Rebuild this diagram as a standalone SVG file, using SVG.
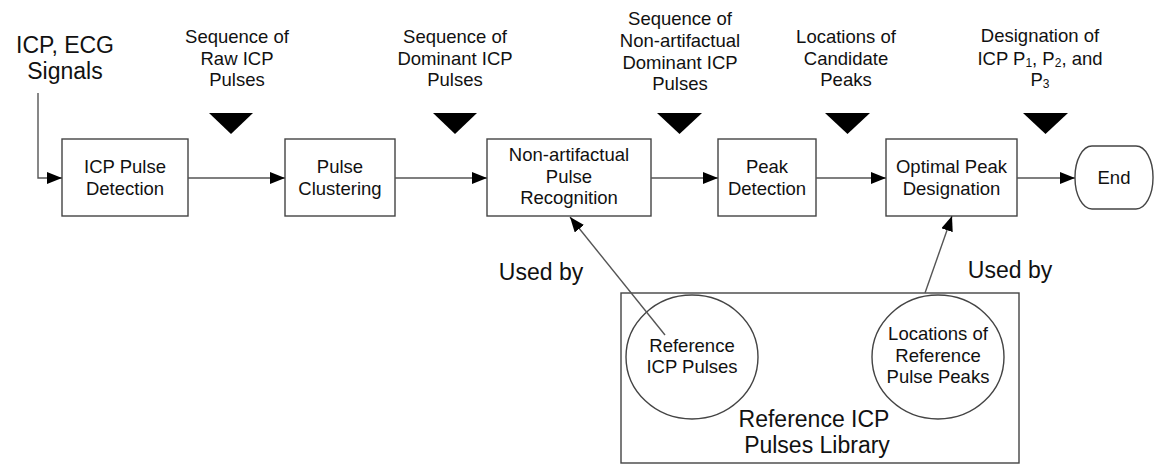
<svg xmlns="http://www.w3.org/2000/svg" width="1157" height="466" viewBox="0 0 1157 466">
<style>
text{font-family:"Liberation Sans",Arial,Helvetica,sans-serif;fill:#111;text-anchor:middle}
.t{font-size:18.5px}
.big{font-size:23px}
.box{fill:#fff;stroke:#444;stroke-width:1.4}
.ln{fill:none;stroke:#555;stroke-width:1.4}
.tri{fill:#000}
.sub{font-size:12px}
</style>
<defs>
<marker id="ah" markerUnits="userSpaceOnUse" markerWidth="16" markerHeight="12" refX="15" refY="6" orient="auto">
<path d="M0,0 L15,6 L0,12 Z" fill="#000"/>
</marker>
</defs>
<rect width="1157" height="466" fill="#fff"/>

<g id="input-label">
<text class="big" x="65" y="53">ICP, ECG</text>
<text class="big" x="65" y="79">Signals</text>
</g>

<g id="labels">
<text class="t" x="237" y="43">Sequence of</text>
<text class="t" x="237" y="64.5">Raw ICP</text>
<text class="t" x="237" y="86">Pulses</text>
<polygon class="tri" points="209,113 253,113 231,134"/>

<text class="t" x="455" y="43">Sequence of</text>
<text class="t" x="455" y="64.5">Dominant ICP</text>
<text class="t" x="455" y="86">Pulses</text>
<polygon class="tri" points="433,113 477,113 455,134"/>

<text class="t" x="680" y="25">Sequence of</text>
<text class="t" x="680" y="47">Non-artifactual</text>
<text class="t" x="680" y="68.5">Dominant ICP</text>
<text class="t" x="680" y="90">Pulses</text>
<polygon class="tri" points="657,113 702,113 679.5,134"/>

<text class="t" x="846" y="43">Locations of</text>
<text class="t" x="846" y="64.5">Candidate</text>
<text class="t" x="846" y="86">Peaks</text>
<polygon class="tri" points="825,113 870,113 847.5,134"/>

<text class="t" x="1040" y="42">Designation of</text>
<text class="t" x="1040" y="64.5">ICP P<tspan class="sub" dy="2">1</tspan><tspan dy="-2">, P</tspan><tspan class="sub" dy="2">2</tspan><tspan dy="-2">, and</tspan></text>
<text class="t" x="1040" y="86">P<tspan class="sub" dy="2">3</tspan></text>
<polygon class="tri" points="1023,113 1068,113 1045.5,134"/>
</g>

<g id="icp-pulse-detection">
<rect class="box" x="62" y="139" width="126" height="77"/>
<text class="t" x="125" y="173">ICP Pulse</text>
<text class="t" x="125" y="195">Detection</text>
</g>

<g id="pulse-clustering">
<rect class="box" x="285" y="139" width="110" height="77"/>
<text class="t" x="340" y="173">Pulse</text>
<text class="t" x="340" y="195">Clustering</text>
</g>

<g id="non-artifactual-pulse-recognition">
<rect class="box" x="487" y="139" width="164" height="77"/>
<text class="t" x="569" y="161">Non-artifactual</text>
<text class="t" x="569" y="183">Pulse</text>
<text class="t" x="569" y="204">Recognition</text>
</g>

<g id="peak-detection">
<rect class="box" x="718" y="139" width="98" height="77"/>
<text class="t" x="767" y="173">Peak</text>
<text class="t" x="767" y="195">Detection</text>
</g>

<g id="optimal-peak-designation">
<rect class="box" x="886" y="139" width="131" height="77"/>
<text class="t" x="951.5" y="173">Optimal Peak</text>
<text class="t" x="951.5" y="195">Designation</text>
</g>

<g id="end">
<rect class="box" x="1075" y="146" width="78" height="63" rx="17" ry="31"/>
<text class="t" x="1114" y="184">End</text>
</g>

<g id="reference-library">
<rect class="box" x="621" y="293" width="398" height="170"/>
<text class="big" x="814" y="427">Reference ICP</text>
<text class="big" x="817" y="453">Pulses Library</text>
</g>

<g id="reference-icp-pulses">
<ellipse class="box" cx="692" cy="357" rx="66" ry="62"/>
<text class="t" x="692" y="352">Reference</text>
<text class="t" x="692" y="373">ICP Pulses</text>
</g>

<g id="reference-pulse-peaks">
<ellipse class="box" cx="938" cy="357" rx="66" ry="62"/>
<text class="t" x="938" y="340">Locations of</text>
<text class="t" x="938" y="362">Reference</text>
<text class="t" x="938" y="383">Pulse Peaks</text>
</g>

<g id="connectors">
<polyline class="ln" points="38,93 38,178 62,178" marker-end="url(#ah)"/>
<line class="ln" x1="188" y1="178" x2="285" y2="178" marker-end="url(#ah)"/>
<line class="ln" x1="395" y1="178" x2="487" y2="178" marker-end="url(#ah)"/>
<line class="ln" x1="651" y1="178" x2="718" y2="178" marker-end="url(#ah)"/>
<line class="ln" x1="816" y1="178" x2="886" y2="178" marker-end="url(#ah)"/>
<line class="ln" x1="1017" y1="178" x2="1075" y2="178" marker-end="url(#ah)"/>
<line class="ln" x1="665" y1="335" x2="570" y2="217" marker-end="url(#ah)"/>
<line class="ln" x1="925" y1="293" x2="952" y2="216" marker-end="url(#ah)"/>
<text class="big" x="541" y="280">Used by</text>
<text class="big" x="1010" y="278">Used by</text>
</g>
</svg>
